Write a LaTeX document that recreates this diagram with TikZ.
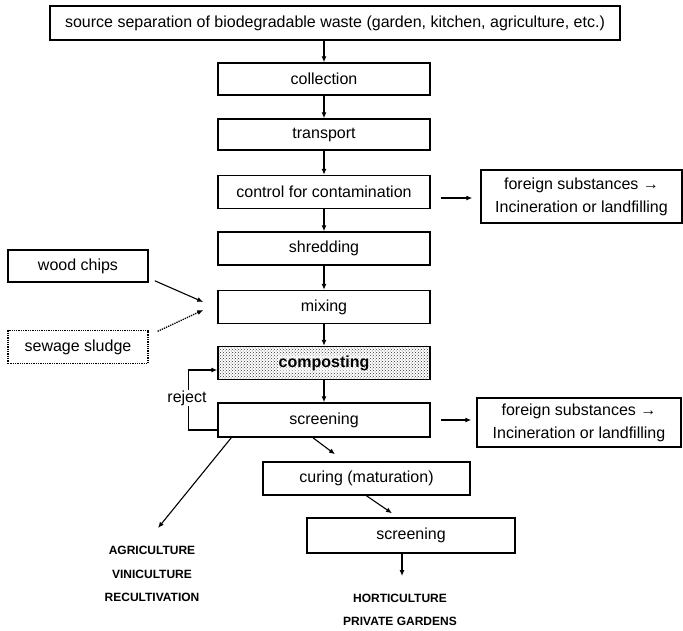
\documentclass[tikz,border=0pt]{standalone}
\usepackage{fontspec}
\setmainfont{Liberation Sans}
\usetikzlibrary{arrows.meta,calc,patterns}
\begin{document}
\begin{tikzpicture}[x=1pt,y=-1pt,
  box/.style={draw,line width=1.5pt,rectangle,inner sep=0pt,align=center,
    font=\fontsize{16}{23}\selectfont},
  mainbox/.style={box,minimum width=212pt,minimum height=33pt},
  dotbox/.style={box,line width=1.3pt,densely dotted},
  lbl/.style={align=center,inner sep=0pt,font=\fontsize{12}{23.5}\selectfont\bfseries},
  arr/.style={line width=1.1pt,-{Latex[length=6pt,width=5pt]}},
  darr/.style={line width=1.3pt,densely dotted,-{Latex[length=6pt,width=5pt]}}
]
\useasboundingbox (0,0) rectangle (683,630);
\fill[white] (0,0) rectangle (683,630);

\node[box,minimum width=570pt,minimum height=34pt] (top) at (335,23)
  {source separation of biodegradable waste (garden, kitchen, agriculture, etc.)};
\node[mainbox,minimum height=32pt] (collection) at (324,79) {collection};
\node[mainbox,minimum height=31pt] (transport) at (324,134.5) {transport};
\node[mainbox] (control) at (324,192) {control for contamination};
\node[mainbox] (shredding) at (324,248.5) {shredding};
\node[mainbox] (mixing) at (324,307) {mixing};
\node[mainbox,pattern=crosshatch dots,pattern color=black!80] (composting) at (324,363) {};
\node[font=\fontsize{16}{20}\selectfont\bfseries,fill=white,fill opacity=0.5,text opacity=1,inner sep=1pt] (comptext) at (composting) {composting};
\node[mainbox,minimum height=34pt] (screening) at (324,420) {screening};

\node[box,minimum width=201pt,minimum height=53pt] (foreign1) at (581.5,196.5)
  {foreign substances →\\Incineration or landfilling};
\node[box,minimum width=204pt,minimum height=49pt] (foreign2) at (579,422.5)
  {foreign substances →\\Incineration or landfilling};

\node[box,minimum width=140pt,minimum height=32pt] (wood) at (78,266) {wood chips};
\node[dotbox,minimum width=140pt,minimum height=33pt] (sludge) at (78,347) {sewage sludge};

\node[box,minimum width=207pt,minimum height=33pt] (curing) at (366.5,478.5) {curing (maturation)};
\node[box,minimum width=208pt,minimum height=35pt] (screen2) at (411,535.5) {screening};

\node[lbl] (agri) at (152,574) {AGRICULTURE\\VINICULTURE\\RECULTIVATION};
\node[lbl] (hort) at (400,610) {HORTICULTURE\\PRIVATE GARDENS};

% main chain
\draw[arr] (top.south -| collection.north) -- (collection.north);
\draw[arr] (collection) -- (transport);
\draw[arr] (transport) -- (control);
\draw[arr] (control) -- (shredding);
\draw[arr] (shredding) -- (mixing);
\draw[arr] (mixing) -- (composting);
\draw[arr] (composting) -- (screening);

% side outputs
\draw[arr] ($(control.east)+(10,6)$) -- ($(control.east -| foreign1.west)+(-8,6)$);
\draw[arr] ($(screening.east)+(10,0)$) -- ($(screening.east -| foreign2.west)+(-5,0)$);

% inputs to mixing
\draw[arr] ($(wood.south east)+(6,-2)$) -- ($(mixing.west)+(-14,-5)$);
\draw[darr] ($(sludge.north east)+(9,1.5)$) -- ($(mixing.west)+(-14,3)$);

% reject loop
\draw[arr] ($(screening.west)+(0,10)$) -- ++(-29,0) |- ($(composting.west)+(0,7)$);
\node[fill=white,inner sep=1pt,font=\fontsize{16}{20}\selectfont] (reject) at (187,398) {reject};

% lower branches
\coordinate (agritip) at (158,528);
\draw[arr] ($(screening.south west)+(14,0)$) -- (agritip);
\draw[arr] ($(screening.south)+(-11,0)$) -- ($(curing.north)+(-31.5,-7)$);
\draw[arr] (curing.south) -- ($(screen2.north)+(-19,-4)$);
\coordinate (horttip) at (402,576);
\draw[arr] (screen2.south -| horttip) -- (horttip);
\end{tikzpicture}
\end{document}
